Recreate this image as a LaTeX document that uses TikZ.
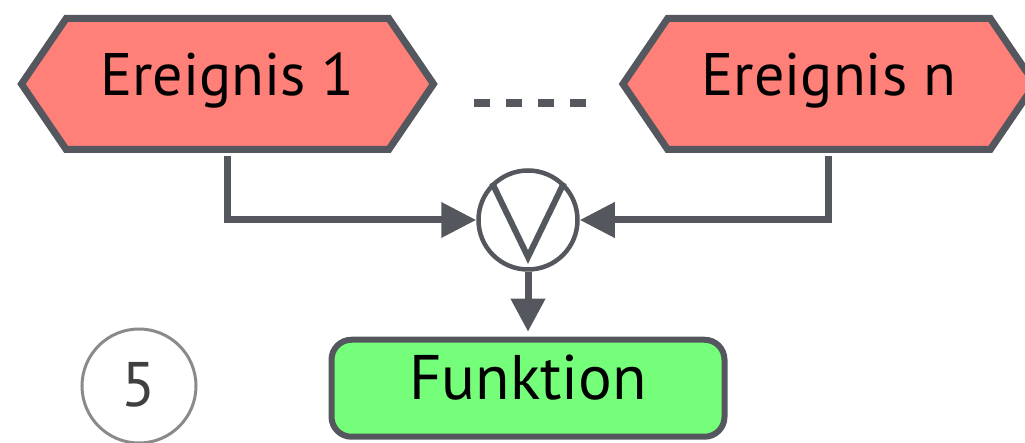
\documentclass[tikz,border=0pt]{standalone}
\usepackage{fontspec}
\setmainfont{PT Sans}
\usetikzlibrary{positioning,shapes.symbols,arrows.meta}
\definecolor{edge}{HTML}{54585E}
\definecolor{evfill}{HTML}{FF7F79}
\definecolor{fnfill}{HTML}{75FE7A}
\definecolor{numgray}{HTML}{8A8A8A}

\begin{document}
\begin{tikzpicture}[x=1pt,y=1pt]
\tikzstyle{evt}=[signal, signal to=west and east, signal pointer angle=111.4, draw=edge, fill=evfill, line width=7pt, minimum width=412pt, minimum height=131pt, inner sep=0pt, text height=44pt, text depth=20pt, font=\fontsize{60}{70}\selectfont]
\tikzstyle{func}=[rectangle, rounded corners=20pt, draw=edge, fill=fnfill, line width=6pt, minimum width=393pt, minimum height=97pt, inner sep=0pt, text height=44pt, text depth=21pt, font=\fontsize{63}{70}\selectfont]
\tikzstyle{orgate}=[circle, draw=edge, line width=4.5pt, minimum size=99pt, inner sep=0pt]
\tikzstyle{connect}=[-{Triangle[length=35pt,width=34pt]}, line width=7pt, draw=edge]
\useasboundingbox (0,0) rectangle (1025,443);
  \node[evt] (ev1) at (227.5,359) {Ereignis 1};
  \node[evt] (evn) [right=181pt of ev1] {Ereignis n};
  \node[orgate] (or) at (528,223) {};
  \node[func] (fkt) [below=65pt of or] {Funktion};
  \node[circle, draw=numgray, line width=3pt, minimum size=114pt, inner sep=0pt, text height=44pt, text depth=2pt, text=black!75, font=\fontsize{63}{70}\selectfont] (num) at (139,57) {5};

  \draw[line width=6pt, draw=edge] (or.134) -- ([yshift=-37pt]or.center) -- (or.46);
  \draw[line width=8pt, draw=edge, dash pattern=on 16pt off 16pt] (474,340) -- (586,340);

  \path (ev1.south) edge [connect, shorten <=3pt, to path={|- (\tikztotarget)}] (or.west)
	(evn.south) edge [connect, shorten <=3pt, to path={|- (\tikztotarget)}] (or.east)
	(or.south) edge [connect, -{Triangle[length=33pt,width=33pt]}, shorten >=5pt] (fkt.north);
\end{tikzpicture}
\end{document}
